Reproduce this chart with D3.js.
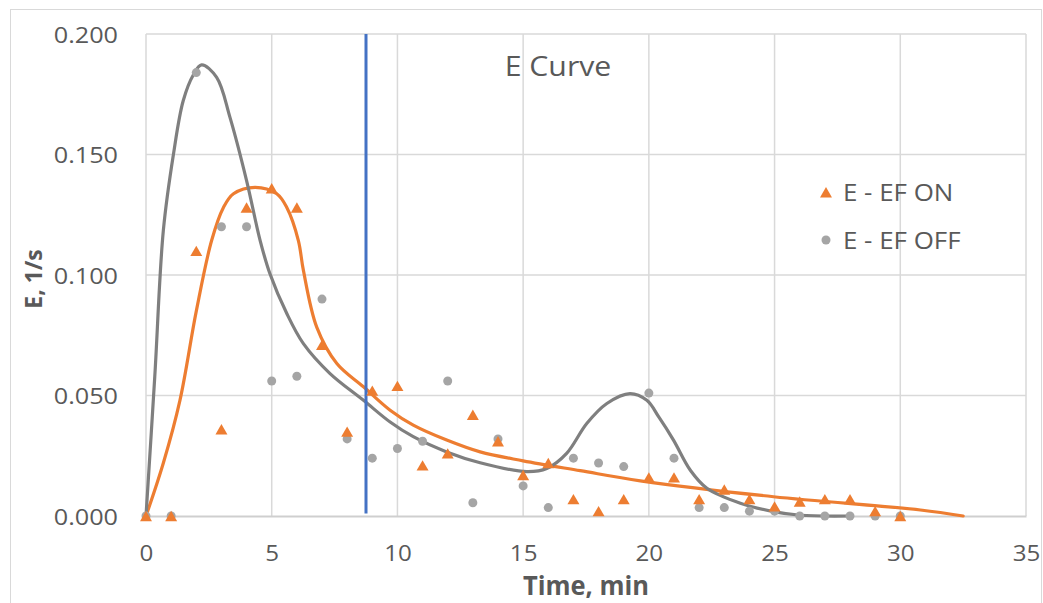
<!DOCTYPE html>
<html>
<head>
<meta charset="utf-8">
<script src="https://cdn.jsdelivr.net/npm/d3@7"></script>
<style>
  body { margin: 0; background: #fff; }
  svg { display: block; }
  text { font-family: "Open Sans", "Noto Sans", sans-serif; fill: #595959; }
</style>
</head>
<body>
<svg id="chart" width="1043" height="603"></svg>
<script>
// Sampling times (min)
const timeMin = [0, 1, 2, 3, 4, 5, 6, 7, 8, 9, 10, 11, 12, 13, 14, 15,
                 16, 17, 18, 19, 20, 21, 22, 23, 24, 25, 26, 27, 28, 29, 30];
// Measured E values, electric field on (1/s)
const efOn = [0, 0, 0.110, 0.036, 0.128, 0.136, 0.128, 0.071, 0.035, 0.052, 0.054,
              0.021, 0.026, 0.042, 0.031, 0.017, 0.022, 0.007, 0.002, 0.007, 0.016,
              0.016, 0.007, 0.011, 0.007, 0.004, 0.006, 0.007, 0.007, 0.002, 0];
// Measured E values, electric field off (1/s)
const efOff = [0, 0, 0.184, 0.120, 0.120, 0.056, 0.058, 0.090, 0.032, 0.024, 0.028,
               0.031, 0.056, 0.0055, 0.032, 0.0125, 0.0035, 0.024, 0.022, 0.0205, 0.051,
               0.024, 0.0035, 0.0035, 0.002, 0.002, 0, 0, 0, 0, 0];

// Smoothed E curve, field on
const fitOnT = [0, 0.69, 1.35, 2.0, 2.61, 3.08, 3.48, 4.34, 5.2, 5.6, 6.06, 6.26, 6.79, 7.59,
                8.65, 9.71, 10.63, 11.96, 13.29, 15.0, 17.27, 19.66, 24.96, 30.8, 32.5];
const fitOnE = [0, 0.022, 0.048, 0.085, 0.1143, 0.128, 0.1337, 0.1364, 0.1337, 0.128, 0.1143,
                0.1019, 0.0784, 0.0633, 0.0536, 0.0439, 0.0377, 0.0315, 0.0266, 0.0229,
                0.0188, 0.0146, 0.008, 0.0025, 0];
// Smoothed E curve, field off
const fitOffT = [0, 0.35, 0.69, 1.09, 1.48, 1.88, 2.21, 2.81, 3.34, 4.0, 4.54, 4.93, 5.6,
                 6.26, 7.32, 8.65, 9.71, 10.63, 11.96, 13.29, 15.14, 15.94, 16.73, 17.53,
                 18.33, 19.25, 19.92, 20.4, 20.98, 21.65, 22.31, 23.64, 24.96, 26.02, 28.0];
const fitOffE = [0, 0.058, 0.1185, 0.150, 0.1723, 0.183, 0.1872, 0.182, 0.1654, 0.1392,
                 0.1143, 0.1005, 0.084, 0.0715, 0.0591, 0.048, 0.039, 0.0329, 0.0266,
                 0.0221, 0.0184, 0.0197, 0.026, 0.0384, 0.0467, 0.0508, 0.048, 0.041,
                 0.0315, 0.019, 0.0115, 0.0053, 0.0018, 0.0003, 0];

// Mean residence time marker (min)
const meanTime = 8.75;

const xTicks = [0, 5, 10, 15, 20, 25, 30, 35];
const yTicks = [0, 0.05, 0.10, 0.15, 0.20];
const seriesNames = ["E - EF ON", "E - EF OFF"];
const chartTitle = "E Curve";
const xTitle = "Time, min";
const yTitle = "E, 1/s";

const C_ON = "#ed7d31", C_OFF_PT = "#a5a5a5", C_OFF_LN = "#7f7f7f", C_MEAN = "#4472c4";
const GRID = "#d9d9d9";

const svg = d3.select("#chart");
const plot = { left: 146, right: 1026, top: 34, bottom: 516 };

const x = d3.scaleLinear().domain([0, 35]).range([plot.left, plot.right]);
const y = d3.scaleLinear().domain([0, 0.2]).range([plot.bottom, plot.top]);

// Horizontal text stretch helper
function stretched(g, sx) {
  g.selectAll("text").each(function () {
    const t = d3.select(this);
    const xv = +t.attr("x") || 0;
    t.attr("x", xv / sx).attr("transform", `scale(${sx},1)`);
  });
}

// Chart frame
svg.append("rect")
  .attr("x", 10.5).attr("y", 9.5).attr("width", 1031).attr("height", 620)
  .attr("fill", "#fff").attr("stroke", GRID).attr("stroke-width", 1);

// Gridlines
svg.append("g").selectAll("line").data(yTicks.filter(d => d > 0)).join("line")
  .attr("x1", plot.left).attr("x2", plot.right)
  .attr("y1", d => y(d)).attr("y2", d => y(d))
  .attr("stroke", GRID).attr("stroke-width", 1.5);
svg.append("g").selectAll("line").data(xTicks).join("line")
  .attr("x1", d => x(d)).attr("x2", d => x(d))
  .attr("y1", plot.top).attr("y2", plot.bottom)
  .attr("stroke", GRID).attr("stroke-width", 1.5);

// Axes
const xAxis = svg.append("g")
  .attr("transform", `translate(0,${plot.bottom})`)
  .call(d3.axisBottom(x).tickValues(xTicks).tickFormat(d3.format("d")).tickSize(0).tickPadding(30));
xAxis.select(".domain").attr("stroke", "#cfcfcf").attr("stroke-width", 2);
xAxis.selectAll("text").attr("font-size", 21).attr("fill", "#595959")
  .style("font-family", '"Open Sans", sans-serif');
stretched(xAxis, 1.15);

const yAxis = svg.append("g")
  .attr("transform", `translate(${plot.left},0)`)
  .call(d3.axisLeft(y).tickValues(yTicks).tickFormat(d3.format(".3f")).tickSize(0).tickPadding(28));
yAxis.select(".domain").remove();
yAxis.selectAll("text").attr("font-size", 21).attr("dy", "0.4em").attr("fill", "#595959")
  .style("font-family", '"Open Sans", sans-serif');
stretched(yAxis, 1.2);

// Smoothed curves
const line = d3.line().x(d => x(d[0])).y(d => y(d[1])).curve(d3.curveCatmullRom.alpha(0.5));
svg.append("path").datum(fitOnT.map((t, i) => [t, fitOnE[i]]))
  .attr("d", line).attr("fill", "none").attr("stroke", C_ON).attr("stroke-width", 3.2)
  .attr("stroke-linecap", "round").attr("stroke-linejoin", "round");
svg.append("path").datum(fitOffT.map((t, i) => [t, fitOffE[i]]))
  .attr("d", line).attr("fill", "none").attr("stroke", C_OFF_LN).attr("stroke-width", 3.2)
  .attr("stroke-linecap", "round").attr("stroke-linejoin", "round");

// Mean time marker
svg.append("line")
  .attr("x1", x(meanTime)).attr("x2", x(meanTime))
  .attr("y1", y(0.2)).attr("y2", y(0.001))
  .attr("stroke", C_MEAN).attr("stroke-width", 3);

// Measured points
const tri = d3.symbol().type(d3.symbolTriangle).size(62);
svg.append("g").selectAll("circle").data(timeMin.map((t, i) => [t, efOff[i]])).join("circle")
  .attr("cx", d => x(d[0])).attr("cy", d => y(d[1])).attr("r", 4.5).attr("fill", C_OFF_PT);
svg.append("g").selectAll("path").data(timeMin.map((t, i) => [t, efOn[i]])).join("path")
  .attr("d", tri).attr("fill", C_ON)
  .attr("transform", d => `translate(${x(d[0])},${y(d[1]) + 1.7})`);

// Title
const titleG = svg.append("g").attr("transform", "translate(558,76)");
titleG.append("text").attr("text-anchor", "middle").attr("font-size", 27).text(chartTitle);
stretched(titleG, 1.12);

// Axis titles
const xtG = svg.append("g").attr("transform", `translate(${(plot.left + plot.right) / 2},595)`);
xtG.append("text").attr("text-anchor", "middle").attr("font-size", 26)
  .attr("font-weight", "bold").text(xTitle);
stretched(xtG, 0.98);

svg.append("text")
  .attr("transform", `translate(42,${(plot.top + plot.bottom) / 2 + 4}) rotate(-90)`)
  .attr("text-anchor", "middle").attr("font-size", 23).attr("font-weight", "bold")
  .text(yTitle);

// Legend
const legend = svg.append("g");
legend.append("path").attr("d", d3.symbol().type(d3.symbolTriangle).size(62))
  .attr("fill", C_ON).attr("transform", "translate(826,194)");
legend.append("circle").attr("cx", 826).attr("cy", 240).attr("r", 4.5).attr("fill", C_OFF_PT);
const lt = legend.append("g");
lt.selectAll("text").data(seriesNames).join("text")
  .attr("x", 843).attr("y", (d, i) => 201 + i * 48)
  .attr("font-size", 24).text(d => d);
stretched(lt, 1.08);
</script>
</body>
</html>
